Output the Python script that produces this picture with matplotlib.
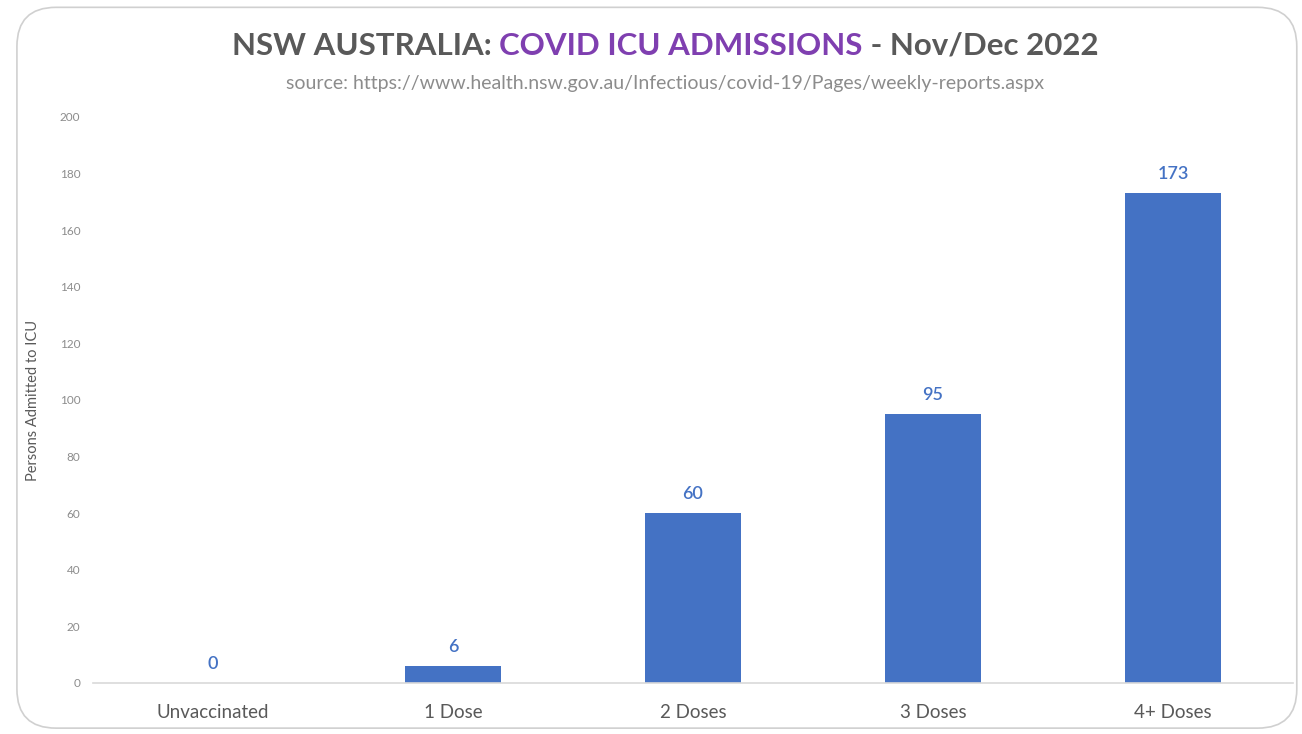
import matplotlib
matplotlib.use("Agg")
import matplotlib.pyplot as plt
from matplotlib.patches import FancyBboxPatch

######################################################################
categories = ["Unvaccinated", "1 Dose", "2 Doses", "3 Doses", "4+ Doses"]
admissions = [0, 6, 60, 95, 173]
y_ticks = [0, 20, 40, 60, 80, 100, 120, 140, 160, 180, 200]

title_parts = [("NSW AUSTRALIA: ", "#595959"),
               ("COVID ICU ADMISSIONS", "#7F3FB0"),
               (" - Nov/Dec 2022", "#595959")]
subtitle = "source: https://www.health.nsw.gov.au/Infectious/covid-19/Pages/weekly-reports.aspx"
######################################################################

bar_color = "#4472C4"
font = ["Lato", "DejaVu Sans"]
W, H = 1302, 734
title_cx = 665  # title block centre, px

fig = plt.figure(figsize=(W / 100, H / 100), dpi=100)
fig.patch.set_facecolor("white")

# rounded chart frame (outline only, so it doesn't hide the axes)
frame = FancyBboxPatch((0.013, 0.008), 0.983, 0.982, boxstyle="round,pad=0,rounding_size=0.03",
                       transform=fig.transFigure, facecolor="none", edgecolor="#D0D0D0",
                       linewidth=1.2, mutation_aspect=W / H, zorder=-1)
fig.patches.append(frame)

ax = fig.add_axes([0.0714, 0.0695, 0.9217, 0.7711])
x = range(len(categories))
bars = ax.bar(x, admissions, width=0.4, color=bar_color, zorder=2)

ax.set_xlim(-0.5, len(categories) - 0.5)
ax.set_ylim(0, 200)
ax.set_yticks(y_ticks)
ax.set_yticklabels([str(t) for t in y_ticks], fontsize=8.5, color="#8C8C8C", family=font)
ax.set_xticks(list(x))
ax.set_xticklabels(categories, fontsize=13.5, color="#595959", family=font)
ax.tick_params(axis="both", length=0)
ax.tick_params(axis="x", pad=15)
ax.tick_params(axis="y", pad=9)
for s in ["top", "right", "left"]:
    ax.spines[s].set_visible(False)
ax.spines["bottom"].set_color("#D9D9D9")
ax.spines["bottom"].set_linewidth(1.2)
ax.set_facecolor("none")
ax.set_ylabel("Persons Admitted to ICU", fontsize=10.5, color="#595959", family=font, labelpad=14)

for rect, v in zip(bars, admissions):
    ax.annotate(str(v), (rect.get_x() + rect.get_width() / 2, v), xytext=(0, 8),
                textcoords="offset points", ha="center", va="bottom",
                fontsize=13, color=bar_color, fontweight="semibold", family=font)

# multicolour title, laid out piece by piece
fig.canvas.draw()
renderer = fig.canvas.get_renderer()
pieces = []
for txt, col in title_parts:
    t = fig.text(0, 1 - 46 / H, txt, fontsize=22.5, color=col, fontweight="bold", family=font,
                 va="center", ha="left")
    pieces.append(t)
widths = [p.get_window_extent(renderer).width for p in pieces]
start = (title_cx - sum(widths) / 2) / W
for p, w in zip(pieces, widths):
    p.set_x(start)
    start += w / W

fig.text(title_cx / W, 1 - 84 / H, subtitle, fontsize=14, color="#8C8C8C", family=font,
         ha="center", va="center")

plt.savefig("out.png", dpi=100)
